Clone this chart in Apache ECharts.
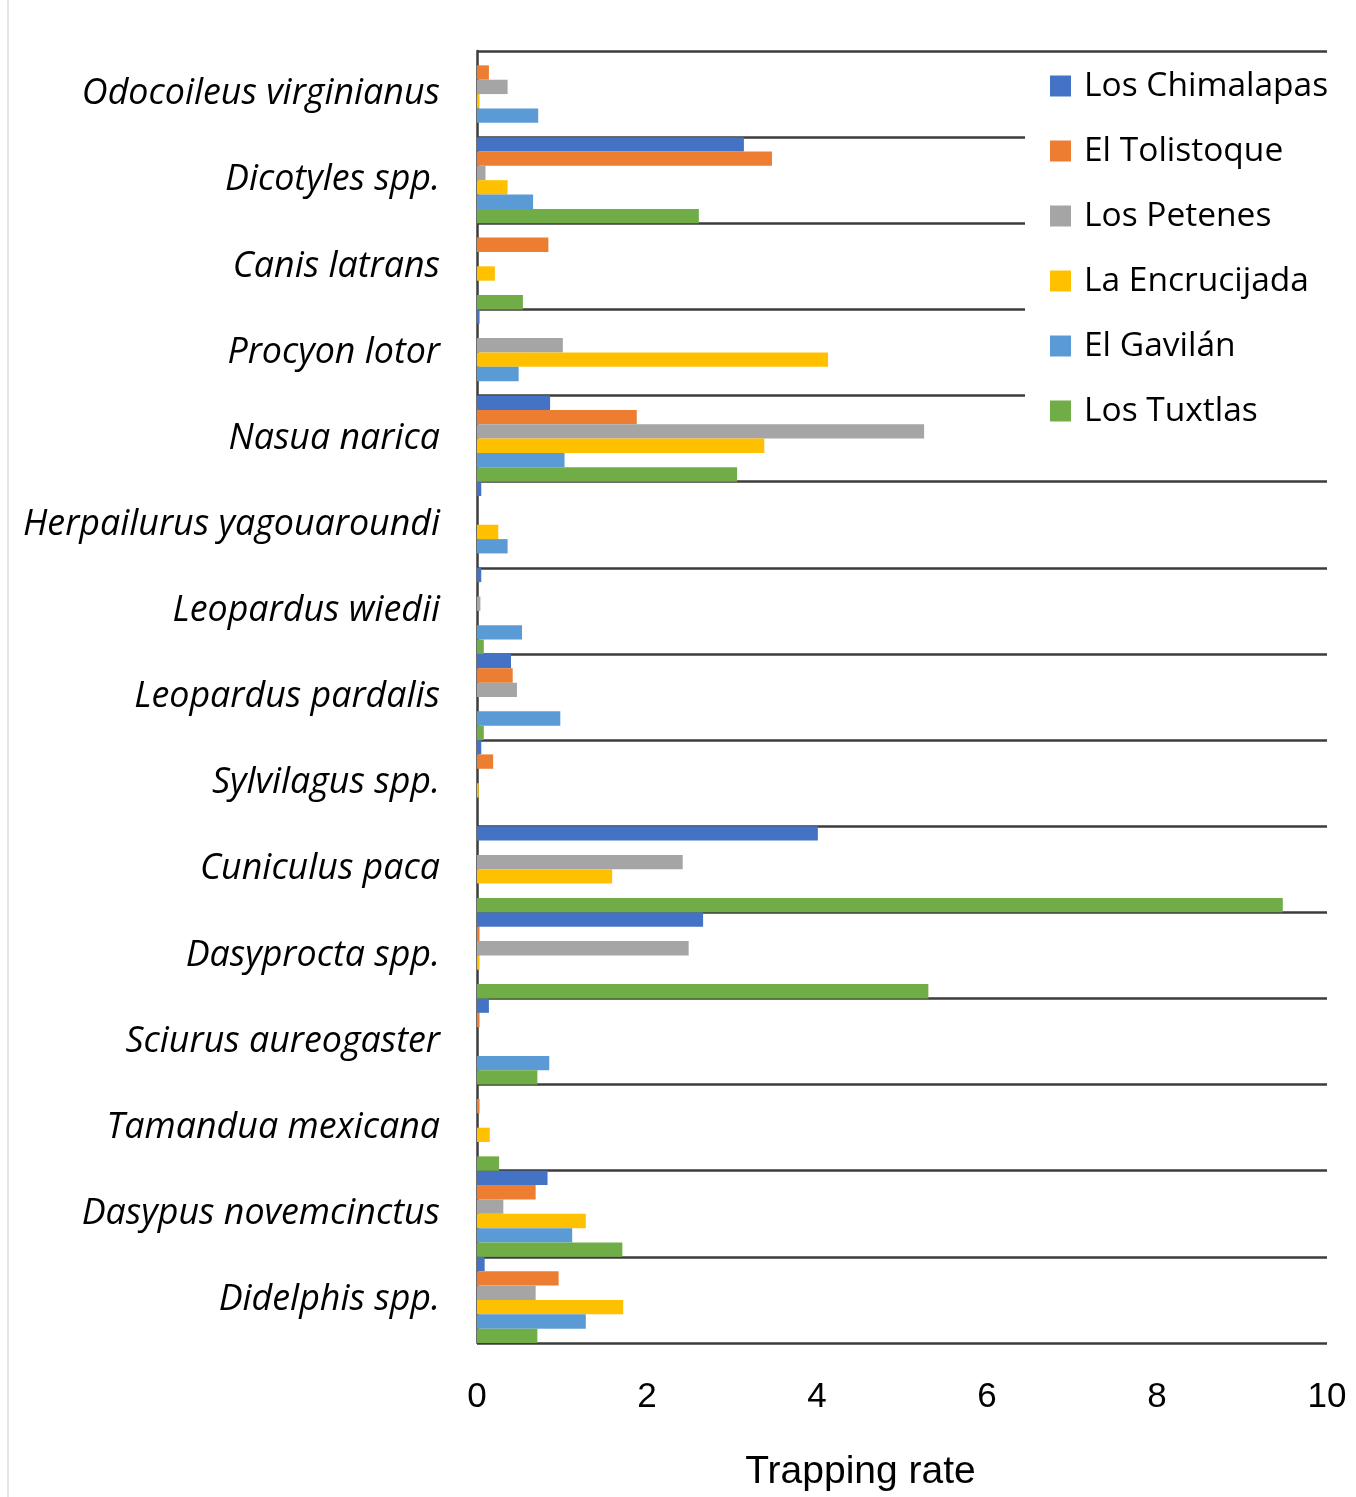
<!DOCTYPE html>
<html>
<head>
<meta charset="utf-8">
<title>Trapping rate by species and site</title>
<script src="https://cdn.jsdelivr.net/npm/echarts@6/dist/echarts.min.js"></script>
<style>
  html, body { margin: 0; padding: 0; background: #ffffff; }
  #chart { width: 1356px; height: 1497px; }
</style>
</head>
<body>
<div id="chart"></div>
<script>
// Species, top to bottom
const species = [
  'Odocoileus virginianus', 'Dicotyles spp.', 'Canis latrans', 'Procyon lotor',
  'Nasua narica', 'Herpailurus yagouaroundi', 'Leopardus wiedii', 'Leopardus pardalis',
  'Sylvilagus spp.', 'Cuniculus paca', 'Dasyprocta spp.', 'Sciurus aureogaster',
  'Tamandua mexicana', 'Dasypus novemcinctus', 'Didelphis spp.'
];

// Trapping rate per site, in the same species order
const losChimalapas = [0, 3.14, 0, 0.03, 0.86, 0.05, 0.05, 0.40, 0.05, 4.01, 2.66, 0.14, 0, 0.83, 0.09];
const elTolistoque  = [0.14, 3.47, 0.84, 0, 1.88, 0, 0, 0.42, 0.19, 0, 0.03, 0.03, 0.03, 0.69, 0.96];
const losPetenes    = [0.36, 0.10, 0, 1.01, 5.26, 0, 0.04, 0.47, 0, 2.42, 2.49, 0, 0, 0.31, 0.69];
const laEncrucijada = [0.03, 0.36, 0.21, 4.13, 3.38, 0.25, 0, 0, 0.02, 1.59, 0.03, 0, 0.15, 1.28, 1.72];
const elGavilan     = [0.72, 0.66, 0, 0.49, 1.03, 0.36, 0.53, 0.98, 0, 0, 0, 0.85, 0, 1.12, 1.28];
const losTuxtlas    = [0, 2.61, 0.54, 0, 3.06, 0, 0.08, 0.08, 0, 9.48, 5.31, 0.71, 0.26, 1.71, 0.71];

const siteNames = ['Los Chimalapas', 'El Tolistoque', 'Los Petenes', 'La Encrucijada', 'El Gavilán', 'Los Tuxtlas'];
const siteValues = [losChimalapas, elTolistoque, losPetenes, laEncrucijada, elGavilan, losTuxtlas];
const siteColors = ['#4472C4', '#ED7D31', '#A5A5A5', '#FFC000', '#5B9BD5', '#70AD47'];

const xTicks = { min: 0, max: 10, interval: 2 };

const chart = echarts.init(document.getElementById('chart'), null, { renderer: 'canvas' });

chart.setOption({
  animation: false,
  backgroundColor: '#ffffff',
  color: siteColors,
  graphic: [{
    type: 'rect',
    z: -1,
    shape: { x: 7, y: 0, width: 2, height: 1497 },
    style: { fill: '#e4e4e4' }
  }],
  grid: { left: 477, right: 29, top: 51, bottom: 151, containLabel: false },
  legend: {
    orient: 'vertical',
    left: 1025,
    top: 58,
    padding: [8, 28, 17, 25],
    backgroundColor: '#ffffff',
    itemWidth: 21,
    itemHeight: 21,
    itemGap: 25,
    icon: 'rect',
    data: siteNames,
    textStyle: {
      fontFamily: '"Open Sans", sans-serif',
      fontSize: 33.5,
      lineHeight: 40,
      color: '#000000',
      padding: [0, 0, 0, 8]
    }
  },
  xAxis: {
    type: 'value',
    min: xTicks.min,
    max: xTicks.max,
    interval: xTicks.interval,
    axisLine: { show: false },
    axisTick: { show: false },
    splitLine: { show: false },
    axisLabel: {
      margin: 37,
      fontFamily: '"Liberation Sans", Arial, sans-serif',
      fontSize: 35,
      color: '#000000'
    },
    name: 'Trapping rate',
    nameLocation: 'middle',
    nameGap: 110,
    nameTextStyle: {
      fontFamily: '"Liberation Sans", Arial, sans-serif',
      fontSize: 39,
      color: '#000000',
      padding: [0, 83, 0, 0]
    }
  },
  yAxis: {
    type: 'category',
    inverse: true,
    data: species,
    axisLine: { show: true, lineStyle: { color: '#3c3c3c', width: 2.5 } },
    axisTick: { show: false },
    splitLine: { show: true, interval: 0, lineStyle: { color: '#3c3c3c', width: 2.5 } },
    axisLabel: {
      interval: 0,
      margin: 37,
      fontFamily: '"Open Sans", sans-serif',
      fontStyle: 'italic',
      fontSize: 35.8,
      color: '#000000',
      lineHeight: 40,
      padding: [4, 0, 0, 0]
    }
  },
  series: siteNames.map((name, i) => ({
    name: name,
    type: 'bar',
    data: siteValues[i],
    barGap: '0%',
    barCategoryGap: '0%',
    itemStyle: { color: siteColors[i] }
  }))
});
</script>
</body>
</html>
